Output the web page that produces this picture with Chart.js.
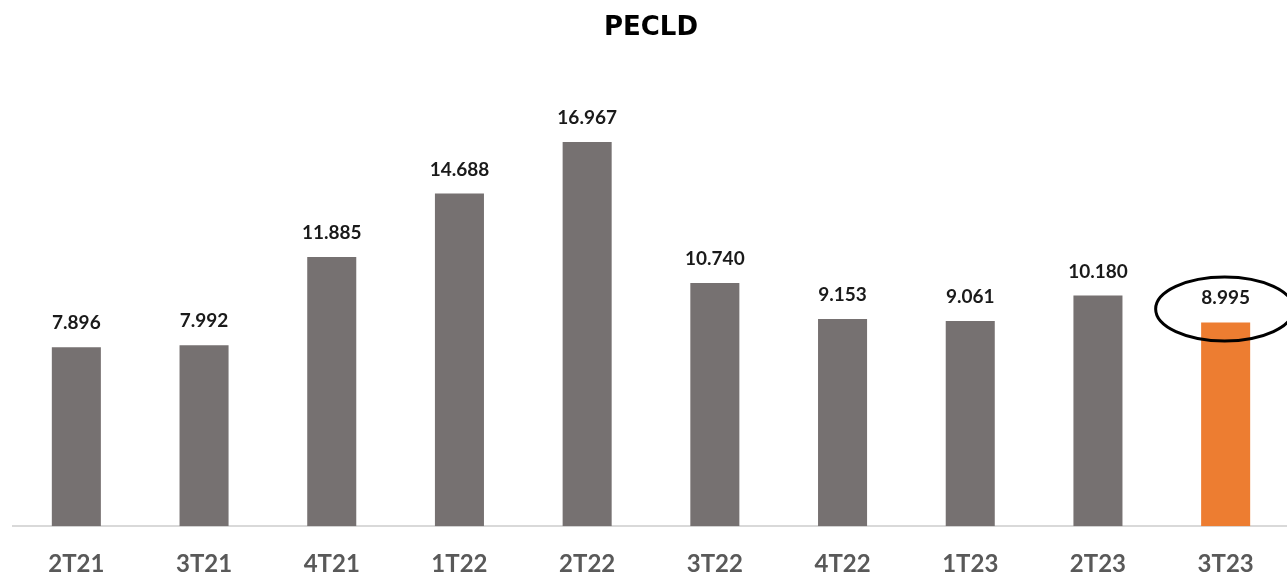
<!DOCTYPE html>
<html>
<head>
<meta charset="utf-8">
<script src="https://cdn.jsdelivr.net/npm/chart.js@4/dist/chart.umd.min.js"></script>
<style>
  html, body { margin: 0; padding: 0; background: #fff; overflow: hidden; }
  #wrap { position: relative; width: 1292px; height: 603px; }
</style>
</head>
<body>
<div id="wrap"><canvas id="c"></canvas></div>
<script>
const titleText = 'PECLD';
const categories = ['2T21', '3T21', '4T21', '1T22', '2T22', '3T22', '4T22', '1T23', '2T23', '3T23'];
const values = [7.896, 7.992, 11.885, 14.688, 16.967, 10.740, 9.153, 9.061, 10.180, 8.995];
const valueLabels = ['7.896', '7.992', '11.885', '14.688', '16.967', '10.740', '9.153', '9.061', '10.180', '8.995'];
const highlightIndex = 9;

const GRAY = '#767171';
const ORANGE = '#ED7D31';

const labelPlugin = {
  id: 'valueLabels',
  afterDatasetsDraw(chart) {
    const ctx = chart.ctx;
    const meta = chart.getDatasetMeta(0);
    ctx.save();
    ctx.font = 'bold 19px Lato, "Open Sans", sans-serif';
    ctx.fillStyle = '#1a1a1a';
    ctx.textAlign = 'center';
    ctx.textBaseline = 'alphabetic';
    meta.data.forEach((bar, i) => {
      ctx.fillText(valueLabels[i], bar.x, bar.y - 18);
    });
    // highlight ellipse around last value
    const hb = meta.data[highlightIndex];
    ctx.beginPath();
    ctx.lineWidth = 3;
    ctx.strokeStyle = '#000';
    ctx.ellipse(hb.x - 1, hb.y - 13.5, 69, 32, 0, 0, Math.PI * 2);
    ctx.stroke();
    ctx.restore();
  }
};

new Chart(document.getElementById('c'), {
  type: 'bar',
  data: {
    labels: categories,
    datasets: [{
      data: values,
      backgroundColor: values.map((v, i) => i === highlightIndex ? ORANGE : GRAY),
      borderWidth: 0,
      barPercentage: 0.384,
      categoryPercentage: 1.0
    }]
  },
  options: {
    responsive: true,
    maintainAspectRatio: false,
    animation: false,
    layout: { padding: { left: 12.5, right: 2.5, top: 0, bottom: 0 } },
    plugins: {
      legend: { display: false },
      tooltip: { enabled: false },
      title: {
        display: true,
        text: titleText,
        color: '#000',
        font: { family: '"DejaVu Sans", sans-serif', weight: 'bold', size: 26, lineHeight: 1.2 },
        padding: { top: 13, bottom: 29 }
      }
    },
    scales: {
      y: {
        display: false,
        min: 0,
        max: 20
      },
      x: {
        grid: { display: false, drawTicks: false },
        border: { display: true, color: '#d9d9d9', width: 2 },
        ticks: {
          color: '#595959',
          font: { family: 'Lato, "Open Sans", sans-serif', weight: 'bold', size: 24, lineHeight: 1.2 },
          padding: 24,
          maxRotation: 0,
          autoSkip: false
        }
      }
    }
  },
  plugins: [labelPlugin]
});
</script>
</body>
</html>
